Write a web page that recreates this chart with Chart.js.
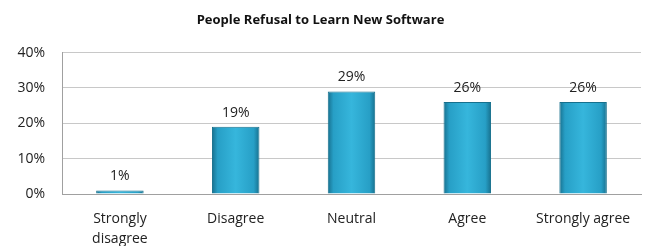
<!DOCTYPE html>
<html>
<head>
<meta charset="utf-8">
<script src="https://cdn.jsdelivr.net/npm/chart.js@4.4.1/dist/chart.umd.min.js"></script>
<style>
  html, body { margin: 0; padding: 0; background: #fff; }
  #wrap { width: 648px; height: 246px; }
</style>
</head>
<body>
<div id="wrap"><canvas id="barChart"></canvas></div>
<script>
const categories = [['Strongly', 'disagree'], 'Disagree', 'Neutral', 'Agree', 'Strongly agree'];
const percentValues = [1, 19, 29, 26, 26];
const yTicks = [0, 10, 20, 30, 40];

const BAR_PCT = 0.41;

// gradient horizontal per batang, biar mirip efek 3D di Excel
function barGradient(context) {
    const chart = context.chart;
    const xScale = chart.scales.x;
    if (!xScale || !chart.chartArea || context.dataIndex === undefined) return '#2eaed4';
    const cx = xScale.getPixelForValue(context.dataIndex);
    const half = (xScale.width / categories.length) * BAR_PCT / 2;
    const g = chart.ctx.createLinearGradient(cx - half, 0, cx + half, 0);
    g.addColorStop(0, '#17708e');
    g.addColorStop(0.12, '#279fc6');
    g.addColorStop(0.5, '#36b6dc');
    g.addColorStop(0.88, '#279fc6');
    g.addColorStop(1, '#17708e');
    return g;
}

// tulis label persen di atas batang
const valueLabels = {
    id: 'valueLabels',
    afterDatasetsDraw(chart) {
        const ctx = chart.ctx;
        const meta = chart.getDatasetMeta(0);
        ctx.save();
        ctx.font = '14px "Open Sans"';
        ctx.fillStyle = '#222';
        ctx.textAlign = 'center';
        ctx.textBaseline = 'bottom';
        meta.data.forEach((bar, i) => {
            ctx.fillText(percentValues[i] + '%', bar.x, bar.y - 7);
        });
        ctx.restore();
    }
};

const ctx = document.getElementById('barChart').getContext('2d');
const barChart = new Chart(ctx, {
    type: 'bar',
    data: {
        labels: categories,
        datasets: [{
            data: percentValues,
            backgroundColor: barGradient,
            borderColor: '#16708d',
            borderWidth: 1,
            barPercentage: BAR_PCT,
            categoryPercentage: 1.0
        }]
    },
    options: {
        responsive: true,
        maintainAspectRatio: false,
        animation: false,
        layout: { padding: { left: 0, right: 7, top: 0, bottom: 0 } },
        plugins: {
            legend: { display: false },
            tooltip: { enabled: false },
            title: {
                display: true,
                text: 'People Refusal to Learn New Software',
                color: '#111',
                font: { family: 'Open Sans', size: 13, weight: 'bold' },
                padding: { top: 12, bottom: 25 }
            }
        },
        scales: {
            x: {
                grid: { display: false },
                border: { color: '#a0a0a0' },
                afterFit(scale) { scale.height = 52; },
                ticks: {
                    color: '#222',
                    font: { family: 'Open Sans', size: 14, lineHeight: 1.45 },
                    maxRotation: 0,
                    padding: 7
                }
            },
            y: {
                min: 0,
                max: 40,
                afterBuildTicks(scale) {
                    scale.ticks = yTicks.map(v => ({ value: v }));
                },
                afterFit(scale) { scale.width = 62; },
                grid: { color: '#c8c8c8', drawTicks: false },
                border: { color: '#a0a0a0' },
                ticks: {
                    color: '#222',
                    font: { family: 'Open Sans', size: 14 },
                    padding: 17,
                    callback: v => v + '%'
                }
            }
        }
    },
    plugins: [valueLabels]
});
</script>
</body>
</html>
